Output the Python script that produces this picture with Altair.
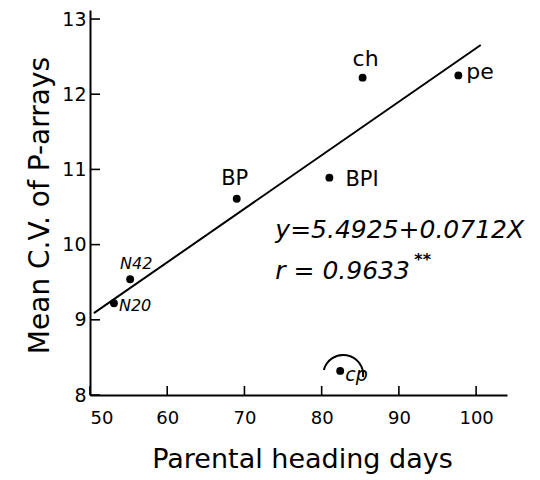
import altair as alt
import pandas as pd

# Cultivars: parental heading days vs. mean C.V. of P-arrays
cultivars = ["N20", "N42", "BP", "BPI", "ch", "pe", "cp"]
heading_days = [53.1, 55.2, 69.0, 81.0, 85.3, 97.7, 82.4]
mean_cv = [9.22, 9.54, 10.61, 10.89, 12.22, 12.25, 8.32]

x_ticks = [50, 60, 70, 80, 90, 100]
y_ticks = [8, 9, 10, 11, 12, 13]

# Fitted regression  y = a + bX  and correlation
intercept = 5.4925
slope = 0.0712
r_value = 0.9633
fit_range = [50.5, 100.6]

FONT = "DejaVu Sans"
W, H = 417, 385

pts = pd.DataFrame({"days": heading_days, "cv": mean_cv, "name": cultivars})
fit = pd.DataFrame({"days": fit_range})
xt = pd.DataFrame({"v": x_ticks})
yt = pd.DataFrame({"v": y_ticks})

xscale = alt.Scale(domain=[50, 104], nice=False, zero=False)
yscale = alt.Scale(domain=[8, 13.12], nice=False, zero=False)

x_axis = alt.Axis(
    values=x_ticks, format="d", tickSize=0, labelPadding=14, labelFontSize=18,
    labelFont=FONT, labelColor="black", grid=False,
    domainColor="black", domainWidth=2,
    title="Parental heading days", titleFont=FONT, titleFontSize=27,
    titleFontWeight="normal", titleColor="black",
    titleX=212, titleY=72, titleBaseline="alphabetic",
)
y_axis = alt.Axis(
    values=y_ticks, format="d", tickSize=0, labelPadding=4, labelFontSize=19,
    labelFont=FONT, labelColor="black", grid=False,
    domainColor="black", domainWidth=2,
    title="Mean C.V. of P-arrays", titleFont=FONT, titleFontSize=28,
    titleFontWeight="normal", titleColor="black",
    titleX=-42, titleY=195, titleBaseline="alphabetic", titleAngle=-90,
)

points = alt.Chart(pts).mark_circle(size=62, color="black", opacity=1).encode(
    x=alt.X("days:Q", scale=xscale, axis=x_axis),
    y=alt.Y("cv:Q", scale=yscale, axis=y_axis),
)

line = alt.Chart(fit).transform_calculate(
    cv=f"{intercept} + {slope} * datum.days"
).mark_line(color="black", strokeWidth=2).encode(
    x=alt.X("days:Q", scale=xscale),
    y=alt.Y("cv:Q", scale=yscale),
)

# inward-pointing tick marks
xticks = alt.Chart(xt).mark_rule(color="black", strokeWidth=1.6).encode(
    x=alt.X("v:Q", scale=xscale),
    y=alt.value(H),
    y2=alt.value(H - 9),
)
yticks = alt.Chart(yt).mark_rule(color="black", strokeWidth=1.6).encode(
    y=alt.Y("v:Q", scale=yscale),
    x=alt.value(0),
    x2=alt.value(10),
)

label_style = {
    "N20": dict(dx=5, dy=3, align="left", fontSize=16, fontStyle="italic"),
    "N42": dict(dx=6, dy=-15, align="center", fontSize=16, fontStyle="italic"),
    "BP": dict(dx=-2, dy=-20, align="center", fontSize=21),
    "BPI": dict(dx=16, dy=2, align="left", fontSize=21),
    "ch": dict(dx=3, dy=-19, align="center", fontSize=22),
    "pe": dict(dx=8, dy=-3, align="left", fontSize=22),
    "cp": dict(dx=5, dy=4, align="left", fontSize=19, fontStyle="italic"),
}
labels = []
for name, st in label_style.items():
    labels.append(
        alt.Chart(pts).transform_filter(alt.datum.name == name)
        .mark_text(baseline="middle", font=FONT, color="black", **st)
        .encode(
            x=alt.X("days:Q", scale=xscale),
            y=alt.Y("cv:Q", scale=yscale),
            text="name:N",
        )
    )

# hand-drawn loop over the outlying cultivar
loop = alt.Chart(pts).transform_filter(alt.datum.name == "cp").mark_arc(
    radius=21, radius2=19, theta=4.96, theta2=7.96,
    color="black", xOffset=3, yOffset=4,
).encode(
    x=alt.X("days:Q", scale=xscale),
    y=alt.Y("cv:Q", scale=yscale),
)

eq_text = f"y={intercept}+{slope}X"
r_text = f"r = {r_value}"
equation = alt.Chart(pts.head(1)).mark_text(
    align="left", baseline="middle", font=FONT, fontSize=25,
    fontStyle="italic", color="black",
).encode(x=alt.datum(74.0), y=alt.datum(10.19), text=alt.value(eq_text))
corr = alt.Chart(pts.head(1)).mark_text(
    align="left", baseline="middle", font=FONT, fontSize=25,
    fontStyle="italic", color="black",
).encode(x=alt.datum(74.0), y=alt.datum(9.65), text=alt.value(r_text))
stars = alt.Chart(pts.head(1)).mark_text(
    align="left", baseline="middle", font=FONT, fontSize=16,
    fontWeight="bold", color="black",
).encode(x=alt.datum(92.0), y=alt.datum(9.80), text=alt.value("**"))

chart = alt.layer(
    line, xticks, yticks, points, loop, *labels, equation, corr, stars
).properties(
    width=W, height=H,
    autosize=alt.AutoSizeParams(type="none"),
    padding={"left": 90, "top": 10, "right": 33, "bottom": 85},
    background="white",
).configure_view(stroke=None)

chart.save("out.html", embed_options={"renderer": "svg", "actions": False})
